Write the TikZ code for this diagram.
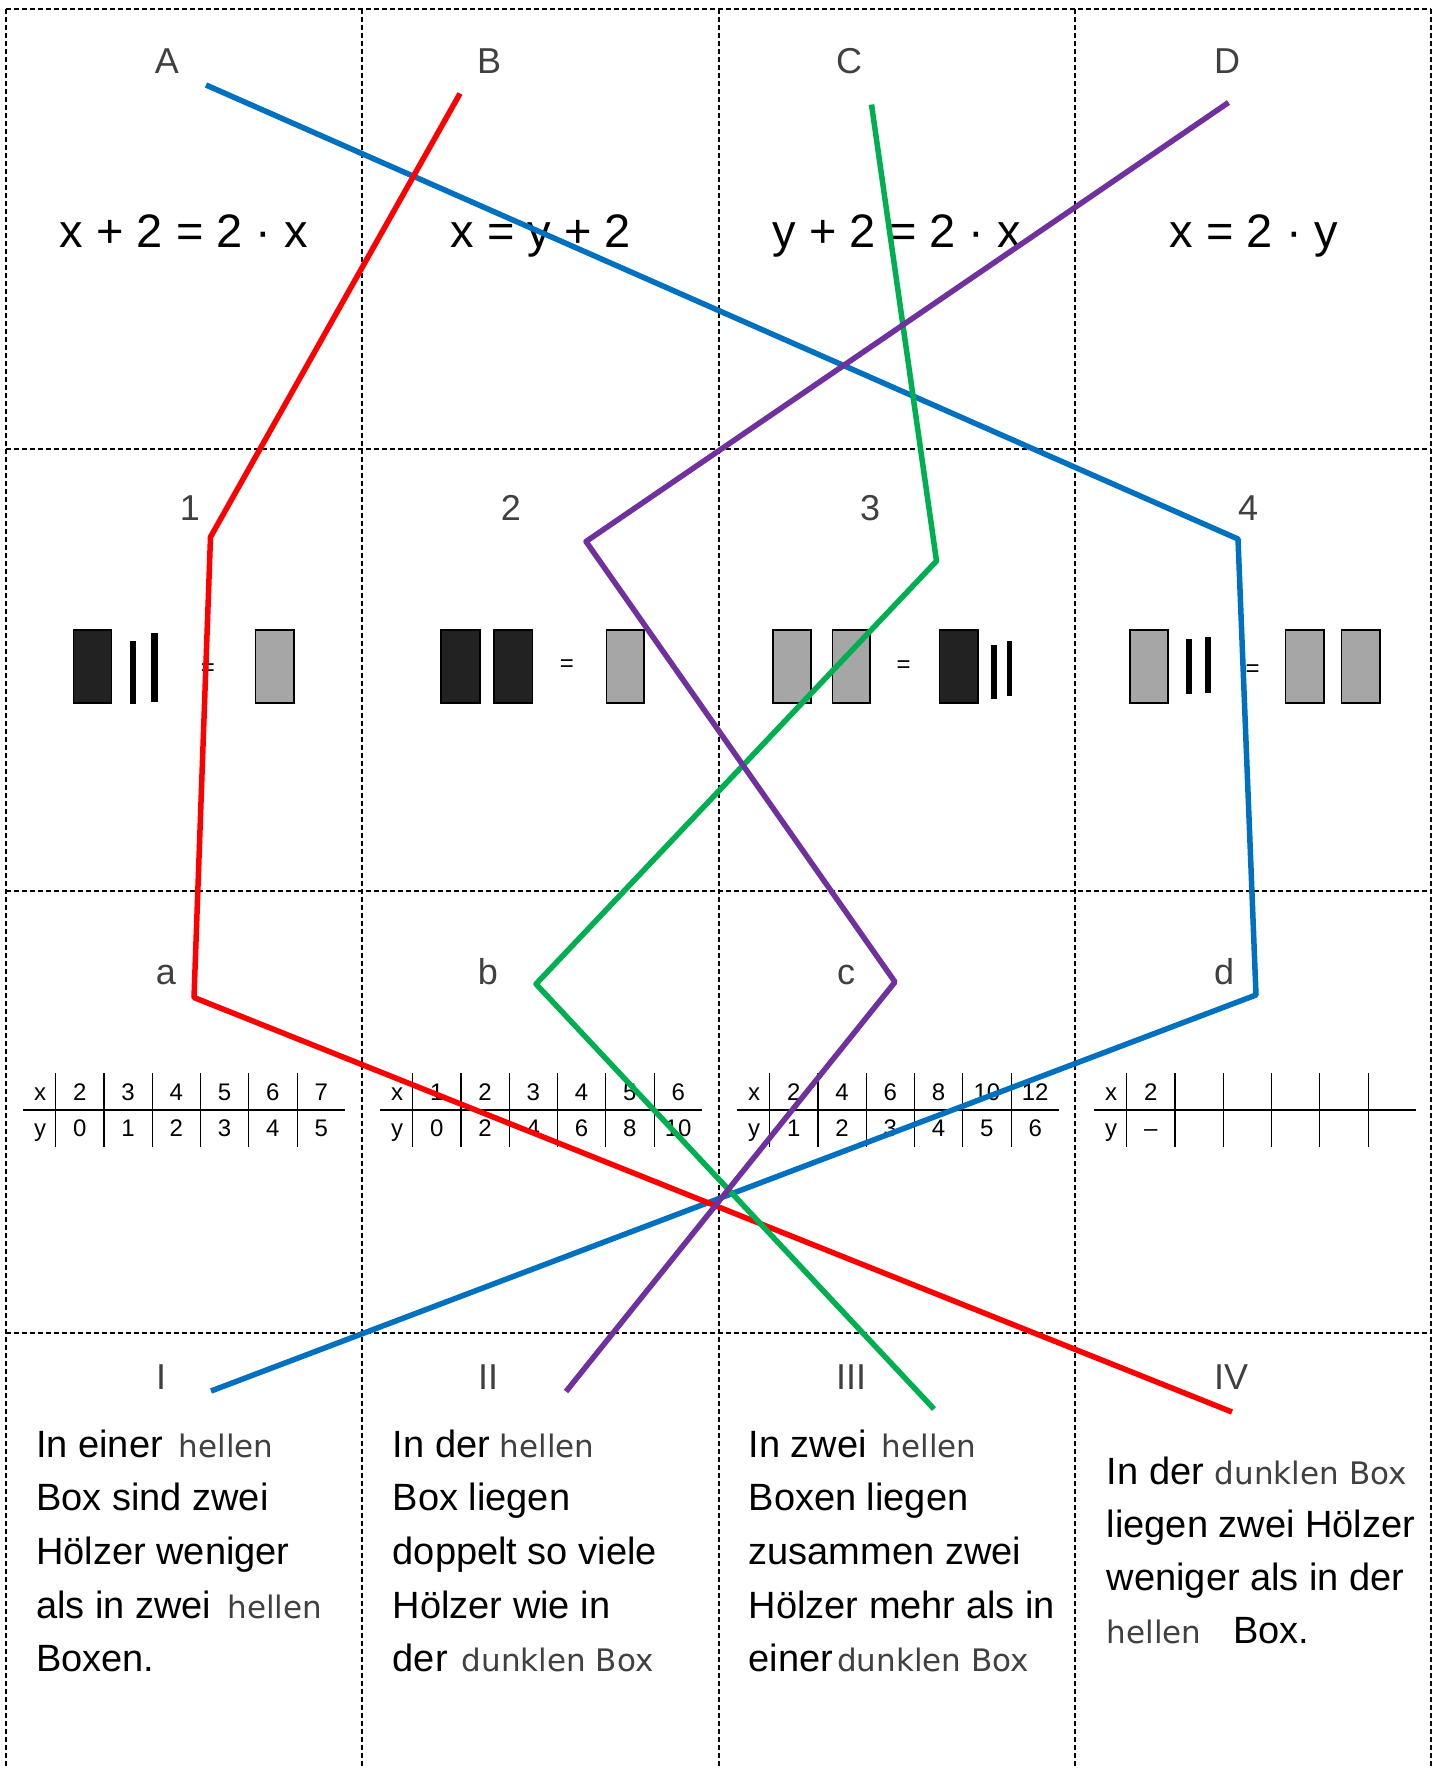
\documentclass[tikz,border=0pt]{standalone}
\usepackage{fontspec}
\setmainfont{Liberation Sans}
\newfontfamily\boxwordfont{DejaVu Sans}
\usepackage{tikz}
\usepackage{xcolor}
\usetikzlibrary{positioning}
\definecolor{matchred}{HTML}{FF0000}
\definecolor{matchblue}{HTML}{0070C0}
\definecolor{matchgreen}{HTML}{00B050}
\definecolor{matchpurple}{HTML}{7030A0}
\definecolor{taggray}{HTML}{404040}
\definecolor{boxdark}{HTML}{222222}
\definecolor{boxlight}{HTML}{A6A6A6}
\newcommand{\boxword}[1]{{\boxwordfont\fontsize{31}{36}\selectfont\color{taggray}#1}}

\begin{document}
\begin{tikzpicture}[x=1pt, y=-1pt,
  cut/.style={black, line width=1.4pt, dash pattern=on 5pt off 3pt},
  tag/.style={font=\fontsize{36}{36}\selectfont\color{taggray}, anchor=base, inner sep=0pt},
  eqn/.style={font=\fontsize{47}{47}\selectfont, anchor=base, inner sep=0pt},
  smalleq/.style={font=\fontsize{24}{24}\selectfont, inner sep=0pt},
  cell/.style={font=\fontsize{24}{24}\selectfont, anchor=base, inner sep=0pt},
  rule/.style={black, line width=1.2pt},
  says/.style={font=\fontsize{38}{38}\selectfont, anchor=base west, inner sep=0pt},
  boxdk/.style={draw=black, fill=boxdark, line width=1.5pt},
  boxlt/.style={draw=black, fill=boxlight, line width=1.5pt},
  match/.style={line width=5.5pt, line join=round},
]
\useasboundingbox (0,0) rectangle (1439,1769);

% cutting lines of the 4x4 cards
\draw[cut] (6,9) -- (1431,9);
\foreach \y in {449,891,1333}
  \draw[cut] (6,\y) -- (1431,\y);
\foreach \x in {6,362,719,1075,1431}
  \draw[cut] (\x,9) -- (\x,1769);

% card labels
\foreach \n/\x in {A/167, B/489, C/849, D/1227}
  \node[tag] (lab\n) at (\x,74) {\n};
\foreach \n/\x in {1/190, 2/511, 3/870, 4/1248}
  \node[tag] (lab\n) at (\x,520) {\n};
\foreach \n/\x in {a/166, b/488, c/846, d/1224}
  \node[tag] (lab\n) at (\x,984) {\n};
\foreach \n/\x in {I/161, II/488, III/851, IV/1231}
  \node[tag] (lab\n) at (\x,1389) {\n};

% row 1: equations
\node[eqn] (eqA) at (184,247) {x + 2 = 2 · x};
\node[eqn] (eqB) at (541,247) {x = y + 2};
\node[eqn] (eqC) at (897,247) {y + 2 = 2 · x};
\node[eqn] (eqD) at (1254,247) {x = 2 · y};

% row 2: boxes and sticks
\draw[boxdk] (73.5,630) rectangle (111.6,703);
\fill (129.5,641) rectangle (136.4,704);
\fill (151,633) rectangle (158,702);
\node[smalleq] (is1) at (208,670) {=};
\draw[boxlt] (255.7,630) rectangle (293.8,703);

\draw[boxdk] (441,630) rectangle (480,703);
\draw[boxdk] (494,630) rectangle (532.6,703);
\node[smalleq] (is2) at (567,666) {=};
\draw[boxlt] (606.5,630) rectangle (644,703);

\draw[boxlt] (772.8,630) rectangle (810.9,703);
\draw[boxlt] (832.5,630) rectangle (870,703);
\node[smalleq] (is3) at (903.6,667) {=};
\draw[boxdk] (939.5,630) rectangle (978,703);
\fill (991,645) rectangle (997,699);
\fill (1006.5,641) rectangle (1012,696);

\draw[boxlt] (1130,630) rectangle (1168,703);
\fill (1186,639) rectangle (1192,694);
\fill (1205,637) rectangle (1211,693);
\node[smalleq] (is4) at (1252.6,671) {=};
\draw[boxlt] (1285.6,630) rectangle (1323.8,703);
\draw[boxlt] (1341.6,630) rectangle (1379.8,703);

% row 3: value tables
\foreach \t/\xs/\ys in {0/{2,3,4,5,6,7}/{0,1,2,3,4,5},
                        1/{1,2,3,4,5,6}/{0,2,4,6,8,10},
                        2/{2,4,6,8,10,12}/{1,2,3,4,5,6},
                        3/{2}/{–}} {
  \pgfmathsetmacro{\xo}{23 + \t*357}
  \draw[rule] (\xo,1110) -- ++(322,0);
  \foreach \k in {0,...,5}
    \draw[rule] ({\xo+32.6+\k*48.3},1073) -- ++(0,74);
  \node[cell] (tx\t) at ({\xo+17},1100) {x};
  \node[cell] (ty\t) at ({\xo+17},1136) {y};
  \foreach \v [count=\k from 0] in \xs
    \node[cell] (tx\t\k) at ({\xo+56.7+\k*48.3},1100) {\v};
  \foreach \v [count=\k from 0] in \ys
    \node[cell] (ty\t\k) at ({\xo+56.7+\k*48.3},1136) {\v};
}

% row 4: statements
\foreach \k/\s in {0/{In einer\hspace{16pt}\boxword{hellen}}, 1/{Box sind zwei},
                   2/{Hölzer weniger}, 3/{als in zwei\hspace{16pt}\boxword{hellen}},
                   4/{Boxen.}}
  \node[says] (sI\k) at (36,{1457+\k*53.7}) {\s};
\foreach \k/\s in {0/{In der\hspace{10pt}\boxword{hellen}}, 1/{Box liegen},
                   2/{doppelt so viele}, 3/{Hölzer wie in},
                   4/{der\hspace{14pt}\boxword{dunklen Box}}}
  \node[says] (sII\k) at (392.6,{1457+\k*53.7}) {\s};
\foreach \k/\s in {0/{In zwei\hspace{15pt}\boxword{hellen}}, 1/{Boxen liegen},
                   2/{zusammen zwei}, 3/{Hölzer mehr als in},
                   4/{einer\hspace{4pt}\boxword{dunklen Box}}}
  \node[says] (sIII\k) at (748.5,{1457+\k*53.7}) {\s};
\foreach \k/\s in {0/{In der\hspace{11pt}\boxword{dunklen Box}}, 1/{liegen zwei Hölzer},
                   2/{weniger als in der}, 3/{\boxword{hellen}\hspace{32pt}Box.}}
  \node[says] (sIV\k) at (1106.6,{1484+\k*53.3}) {\s};

% matching lines
\coordinate (bA) at (206,85);
\coordinate (b4) at (1238,539);
\coordinate (bd) at (1256,995);
\coordinate (bI) at (211,1391);
\coordinate (rB) at (460,93.5);
\coordinate (r1) at (210.5,537);
\coordinate (ra) at (194,997.5);
\coordinate (rIV) at (1232,1412);
\coordinate (gC) at (871.5,104.5);
\coordinate (g3) at (936.5,561);
\coordinate (gb) at (536,984);
\coordinate (gIII) at (934,1409);
\coordinate (pD) at (1228.5,102.5);
\coordinate (p2) at (586,541.5);
\coordinate (pc) at (895,982);
\coordinate (pII) at (566,1391.5);

\draw[match, matchblue] (bA) -- (b4) -- (bd) -- (bI);
\draw[match, matchred] (rB) -- (r1) -- (ra) -- (rIV);
\draw[match, matchgreen] (gC) -- (g3) -- (gb) -- (gIII);
\draw[match, matchpurple] (pD) -- (p2) -- (pc) -- (pII);
\end{tikzpicture}
\end{document}
